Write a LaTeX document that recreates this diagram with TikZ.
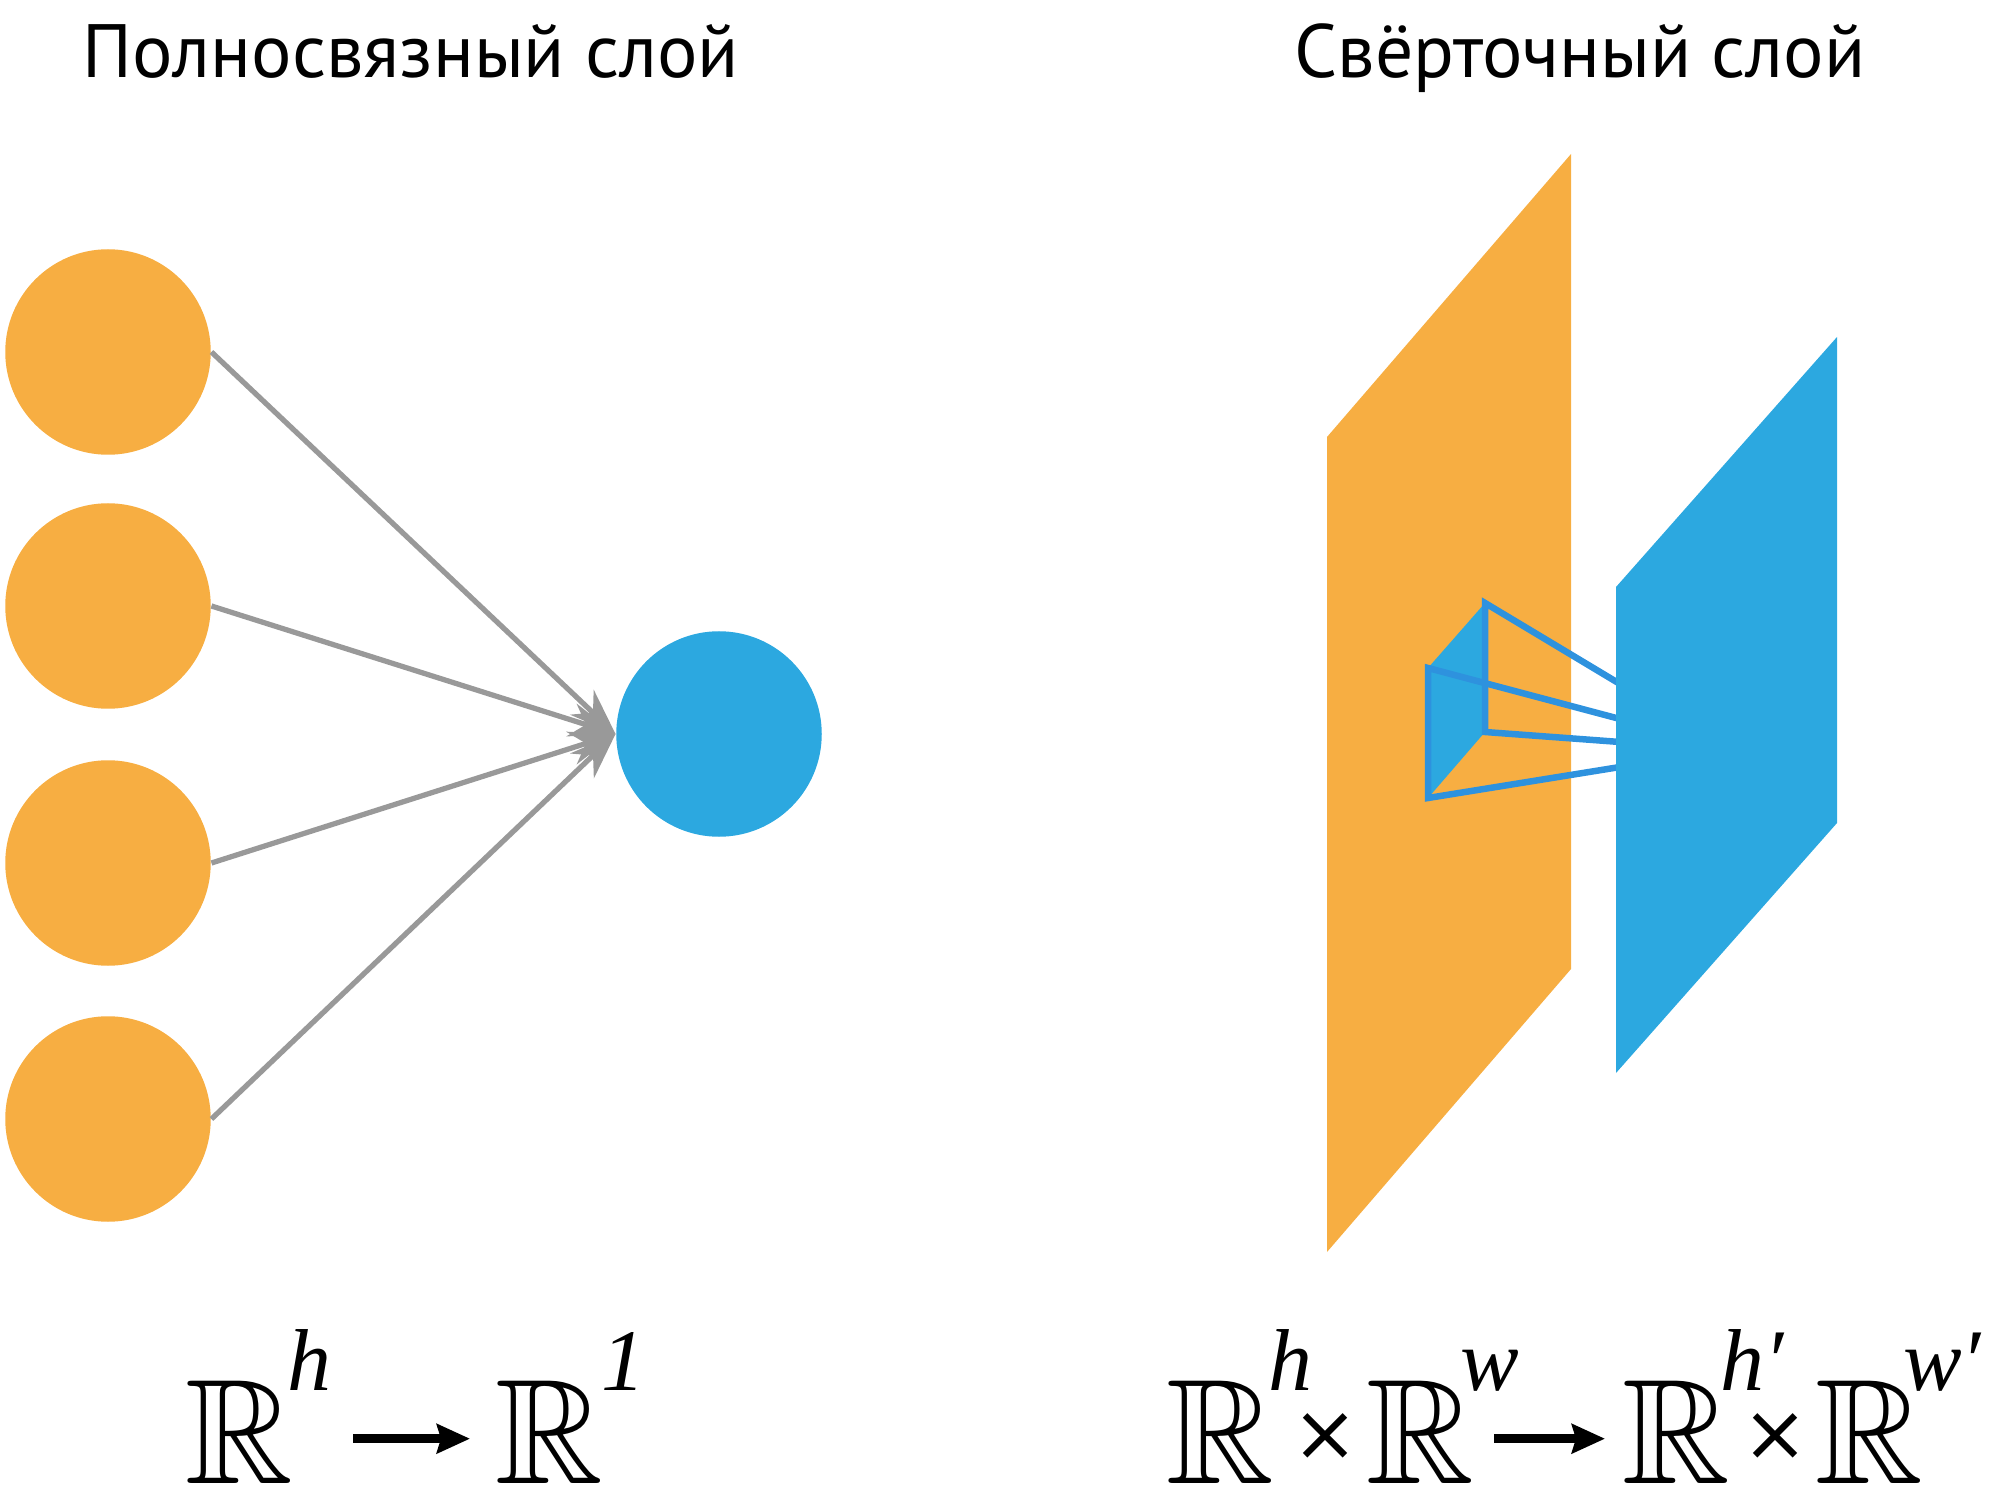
\documentclass[tikz,border=0pt]{standalone}
\usepackage{amsmath}
\usepackage{amssymb}
\usepackage{fontspec}
\setmainfont{PT Sans}
\newfontfamily\tnr{Liberation Serif}
\newfontfamily\symfont{DejaVu Sans}
\usetikzlibrary{arrows.meta,positioning}
\definecolor{fcorange}{RGB}{247,174,66}
\definecolor{fcblue}{RGB}{44,168,224}
\definecolor{kernblue}{RGB}{46,146,222}
\definecolor{linkgray}{RGB}{153,153,153}
\newcommand{\Rsup}[2][-0.06cm]{\mathbb{R}\rlap{\kern#1\raisebox{0.93cm}{\fontsize{25pt}{25pt}\tnr\itshape #2}}}
\newcommand{\Xm}{\raisebox{0.23cm}{\fontsize{22.4pt}{22.4pt}\symfont ×}}

\begin{document}
\begin{tikzpicture}[
	>={Stealth[length=4.6mm,width=3.4mm]},
	neuron/.style={circle, fill=fcorange, minimum size=2.055cm, inner sep=0pt},
	link/.style={draw=linkgray, line width=1.5pt},
	title/.style={anchor=base, inner sep=0pt, font=\fontsize{21.5pt}{21.5pt}\selectfont},
	formula/.style={anchor=base west, inner sep=0pt, font=\fontsize{42.5pt}{42.5pt}\selectfont},
	bigarrow/.style={line width=0.09cm, -{Stealth[length=3.3mm,width=2.9mm,inset=0.4mm]}},
	kernel/.style={draw=kernblue, line width=0.065cm}
]
\useasboundingbox (0,0) rectangle (20,15);

\node[title] (fctitle) at (4.11,14.22) {Полносвязный слой};
\node[title] (convtitle) at (15.80,14.22) {Свёрточный слой};

\foreach \i/\y in {1/11.48,2/8.94,3/6.37,4/3.81}
	\node[neuron] (in\i) at (1.08,\y) {};
\node[neuron, fill=fcblue] (out) at (7.19,7.66) {};
\foreach \i in {1,2,3,4}
	\draw[link,->] (in\i.east) -- (out.west);

\fill[fcorange] (13.27,10.63) -- (15.71,13.46) -- (15.71,5.31) -- (13.27,2.48) -- cycle;

\coordinate (k1) at (14.28,8.32);
\coordinate (k2) at (14.85,8.97);
\coordinate (k3) at (14.85,7.68);
\coordinate (k4) at (14.28,7.02);
\coordinate (p1) at (16.2,8.16);
\coordinate (p2) at (16.2,7.81);
\coordinate (p3) at (16.2,7.58);
\coordinate (p4) at (16.2,7.33);
\fill[fcblue] (k1) -- (k2) -- (k3) -- (k4) -- cycle;
\draw[kernel] (p2) -- (k1) -- (k4) -- (p4);
\draw[kernel] (p1) -- (k2) -- (k3) -- (p3);

\fill[fcblue] (16.16,9.13) -- (18.37,11.63) -- (18.37,6.77) -- (16.16,4.27) -- cycle;

\node[formula] (fcin) at (1.85,0.17) {$\Rsup{h}$};
\node[formula] (fcout) at (4.95,0.17) {$\Rsup[-0.02cm]{1}$};
\draw[bigarrow] ([xshift=5.9mm,yshift=4.43mm]fcin.base east) -- ([xshift=-2.5mm,yshift=4.43mm]fcout.base west);

\node[formula] (convin) at (11.66,0.17) {$\Rsup{h}\kern0.177cm\Xm\kern0.084cm\Rsup[-0.137cm]{w}$};
\node[formula] (convout) at (16.22,0.17) {$\Rsup[-0.1cm]{h\char"2032}\kern0.121cm\Xm\kern0.067cm\Rsup[-0.2cm]{w\char"2032}$};
\draw[bigarrow] ([xshift=1.9mm,yshift=4.43mm]convin.base east) -- ([xshift=-1.7mm,yshift=4.43mm]convout.base west);
\end{tikzpicture}
\end{document}
